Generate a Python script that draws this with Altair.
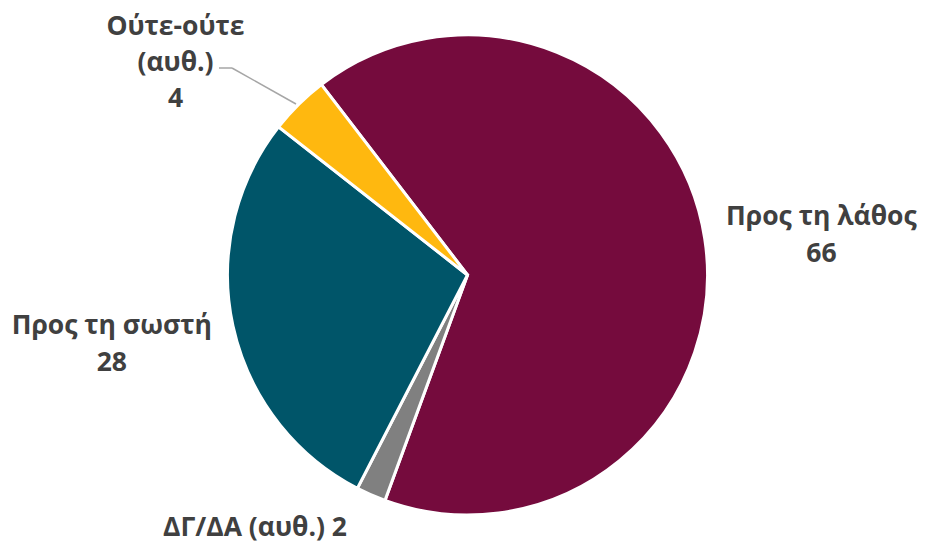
import math
import altair as alt
import pandas as pd

categories = ["Προς τη λάθος", "ΔΓ/ΔΑ (αυθ.)", "Προς τη σωστή", "Ούτε-ούτε (αυθ.)"]
values = [66, 2, 28, 4]
labels = ["Προς τη λάθος\n66", "ΔΓ/ΔΑ (αυθ.) 2", "Προς τη σωστή\n28", "Ούτε-ούτε\n(αυθ.)\n4"]
colors = ["#750b3d", "#808080", "#005569", "#ffb80f"]

df = pd.DataFrame({
    "cat": categories,
    "value": values,
    "label": labels,
    "ord": list(range(len(categories))),
})

start = math.radians(322.5)
theta_scale = alt.Scale(domain=[0, 100], range=[start, start + 2 * math.pi])

base = alt.Chart(df).transform_window(
    cum="sum(value)", sort=[alt.SortField("ord")]
).transform_calculate(
    lo="datum.cum - datum.value",
    mid="datum.cum - datum.value / 2",
)

pie = base.mark_arc(outerRadius=240, stroke="white", strokeWidth=3).encode(
    theta=alt.Theta("lo:Q", scale=theta_scale),
    theta2="cum:Q",
    color=alt.Color("cat:N", scale=alt.Scale(domain=categories, range=colors), legend=None),
)

text_style = dict(font="Open Sans", fontWeight="bold", fontSize=26.5, color="#404040",
                  lineBreak="\n", lineHeight=37, align="center", baseline="middle")

def label_layer(cat, r, dx, dy, lh=37):
    style = dict(text_style)
    style["lineHeight"] = lh
    return base.transform_filter(alt.datum.cat == cat).mark_text(
        radius=r, dx=dx, dy=dy, **style
    ).encode(
        theta=alt.Theta("mid:Q", scale=theta_scale),
        text="label:N",
    )

lbl_a = label_layer(categories[0], 358, 0, -4)
lbl_b = label_layer(categories[1], 260, -108, 15)
lbl_c = label_layer(categories[2], 364, 0, -27)
lbl_d = label_layer(categories[3], 300, -81, -35, lh=36)

leader1 = alt.Chart(df).transform_filter(alt.datum.ord == 3).mark_rule(color="#a6a6a6", strokeWidth=1.5).encode(
    x=alt.value(211), x2=alt.value(224), y=alt.value(60), y2=alt.value(60)
)
leader2 = alt.Chart(df).transform_filter(alt.datum.ord == 3).mark_rule(color="#a6a6a6", strokeWidth=1.5).encode(
    x=alt.value(224), x2=alt.value(288), y=alt.value(60), y2=alt.value(96)
)

chart = alt.layer(pie, leader1, leader2, lbl_a, lbl_b, lbl_c, lbl_d).properties(
    width=919, height=534, autosize=alt.AutoSizeParams(type="none"),
    padding={"left": 0, "top": 0, "right": 0, "bottom": 10}
).configure_view(stroke=None)

chart.save("out.html", embed_options={"renderer": "svg", "actions": False})
